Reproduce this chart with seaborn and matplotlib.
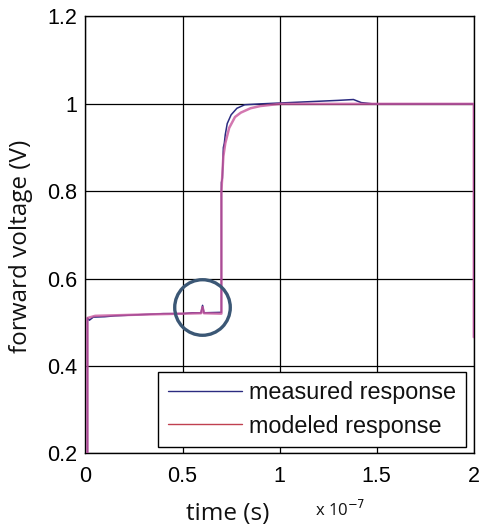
import numpy as np
import pandas as pd
import matplotlib
matplotlib.use("Agg")
import matplotlib.pyplot as plt
import seaborn as sns
from matplotlib.lines import Line2D

# ---- data (time in units of 1e-7 s, voltage in V) ----
t_measured = [0.01, 0.01, 0.02, 0.04, 0.10, 0.15, 0.20, 0.30, 0.40, 0.50, 0.55,
              0.595, 0.603, 0.61, 0.70, 0.700, 0.705, 0.710, 0.715, 0.72, 0.73,
              0.75, 0.78, 0.82, 0.90, 1.00, 1.05, 1.15, 1.30, 1.38, 1.42, 1.48,
              2.00, 2.00]
v_measured = [0.20, 0.510, 0.505, 0.512, 0.513, 0.515, 0.516, 0.518, 0.520, 0.520, 0.522,
              0.522, 0.539, 0.522, 0.523, 0.820, 0.830, 0.900, 0.910, 0.930, 0.955,
              0.975, 0.990, 0.998, 1.000, 1.002, 1.003, 1.005, 1.008, 1.010, 1.003, 1.000,
              1.000, 0.466]

t_modeled = [0.01, 0.01, 0.05, 0.30, 0.50, 0.595, 0.603, 0.61, 0.70, 0.700, 0.710,
             0.72, 0.74, 0.77, 0.80, 0.85, 0.90, 1.00, 1.50, 2.00, 2.00]
v_modeled = [0.20, 0.510, 0.515, 0.518, 0.520, 0.521, 0.535, 0.521, 0.520, 0.800, 0.880,
             0.910, 0.945, 0.970, 0.980, 0.990, 0.995, 1.000, 1.000, 1.000, 0.466]

series_names = ["measured response", "modeled response"]
x_ticks = [0, 0.5, 1, 1.5, 2]
x_tick_labels = ["0", "0.5", "1", "1.5", "2"]
y_ticks = [0.2, 0.4, 0.6, 0.8, 1.0, 1.2]
y_tick_labels = ["0.2", "0.4", "0.6", "0.8", "1", "1.2"]
circle_center = (0.60, 0.535)

df_m = pd.DataFrame({"t": np.array(t_measured) * 1e-7, "v": v_measured})
df_o = pd.DataFrame({"t": np.array(t_modeled) * 1e-7, "v": v_modeled})

sns.set_style("white")
plt.rcParams["font.family"] = ["Liberation Sans", "DejaVu Sans"]
plt.rcParams["text.color"] = "black"
plt.rcParams["axes.labelcolor"] = "black"

fig = plt.figure(figsize=(4.83, 5.25), dpi=100)
ax = fig.add_axes([0.177, 0.1362, 0.804, 0.8324])

navy = "#2b2b80"
pink = "#c8559c"
sns.lineplot(data=df_m, x="t", y="v", sort=False, estimator=None, ax=ax,
             color=navy, lw=1.1, zorder=3)
sns.lineplot(data=df_o, x="t", y="v", sort=False, estimator=None, ax=ax,
             color=pink, lw=1.8, alpha=0.8, zorder=4)

ax.set_xlim(0, 2e-7)
ax.set_ylim(0.2, 1.2)
ax.set_xticks([x * 1e-7 for x in x_ticks])
ax.set_xticklabels(x_tick_labels)
ax.set_yticks(y_ticks)
ax.set_yticklabels(y_tick_labels)
ax.tick_params(direction="in", length=3, width=1, labelsize=15.5, colors="black",
               top=False, right=False)
ax.tick_params(axis="x", pad=9)
ax.tick_params(axis="y", pad=6)
ax.grid(True, color="black", lw=0.9)
for s in ax.spines.values():
    s.set_color("black")
    s.set_linewidth(1.0)
    s.set_visible(True)

# circle annotation
ax.plot([circle_center[0] * 1e-7], [circle_center[1]], marker="o", markersize=40,
        fillstyle="none", markeredgecolor="#3b5775", markeredgewidth=2.4, zorder=5,
        linestyle="none")

ax.set_xlabel("time (s)", fontsize=17.5, family=["Open Sans", "DejaVu Sans"], color="#111111")
ax.set_ylabel("forward voltage (V)", fontsize=17.5, family=["Open Sans", "DejaVu Sans"],
              color="#111111")
ax.xaxis.set_label_coords(0.367, -0.11)
ax.yaxis.set_label_coords(-0.136, 0.475)
fig.text(315 / 483, 1 - 510 / 525, r"x 10$^{-7}$", fontsize=12,
         family=["Open Sans", "DejaVu Sans"], va="center", ha="left", color="#111111")

handles = [Line2D([], [], color=navy, lw=1.0), Line2D([], [], color="#c04050", lw=1.0)]
leg = ax.legend(handles, series_names, loc="lower right",
                bbox_to_anchor=(0.979, 0.015), fontsize=16.8, frameon=True,
                fancybox=False, edgecolor="black", framealpha=1,
                handlelength=3.2, handletextpad=0.3, borderpad=0.4,
                labelspacing=0.45, borderaxespad=0)
leg.get_frame().set_linewidth(1.0)
leg.set_zorder(10)
for txt in leg.get_texts():
    txt.set_color("#111111")

fig.savefig("out.png", dpi=100, facecolor="white")
